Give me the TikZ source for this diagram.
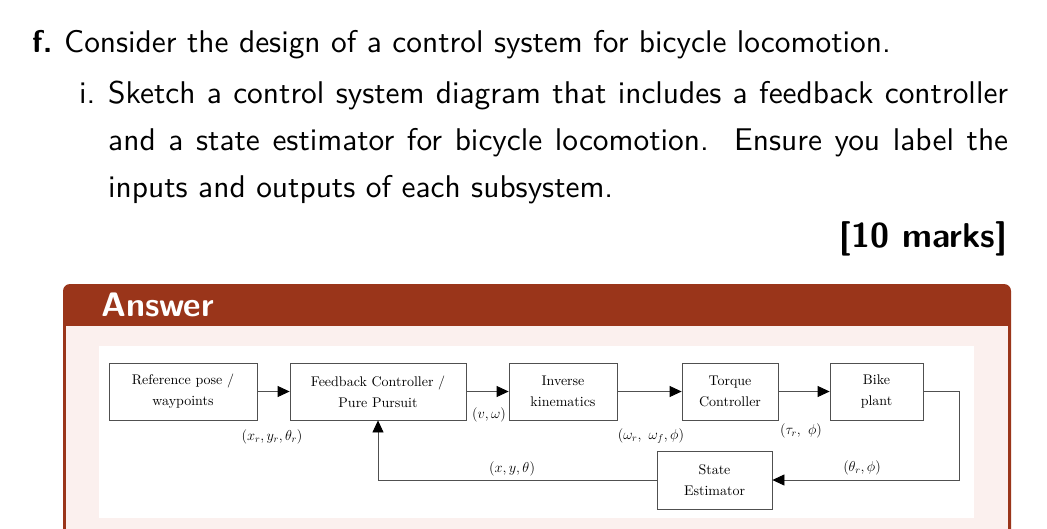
\documentclass[tikz,border=0pt]{standalone}
\usepackage{fontspec}
\setmainfont{lmroman10-regular}[Extension=.otf, BoldFont=lmroman10-bold, ItalicFont=lmroman10-italic]
\setsansfont{lmsans10-regular}[Extension=.otf, BoldFont=lmsans10-bold]
\usetikzlibrary{arrows.meta}
\definecolor{ansbrown}{RGB}{154,53,26}
\definecolor{anspink}{RGB}{251,240,238}
\definecolor{boxgray}{RGB}{80,80,80}
\begin{document}
\begin{tikzpicture}[x=1pt,y=-1pt,
  qtext/.style={anchor=base west, inner sep=0, font=\sffamily\fontsize{31.4}{36}\selectfont},
  blk/.style={draw=boxgray, line width=0.8pt, align=center, inner sep=0, minimum height=57pt, font=\fontsize{14}{21}\selectfont},
  sig/.style={inner sep=0, font=\fontsize{14.5}{17}\selectfont},
  arr/.style={draw=boxgray, line width=0.8pt, -{Triangle[length=12pt,width=11pt,color=black]}},
  ln/.style={draw=boxgray, line width=0.8pt}]
\useasboundingbox (0,0) rectangle (1047,528);
\clip (0,0) rectangle (1047,528);
\fill[white] (0,0) rectangle (1047,528);
% question text
\node[qtext] (q1a) at (32,52) {\bfseries f.};
\node[qtext] (q1) at (64,52) {Consider the design of a control system for bicycle locomotion.};
\node[qtext] (q2a) at (79,103) {i.};
\node[qtext] (q2) at (108,103) {\makebox[900pt][s]{Sketch a control system diagram that includes a feedback controller}};
\node[qtext] (q3) at (108,150) {\makebox[900pt][s]{and a state estimator for bicycle locomotion.\ \ Ensure you label the}};
\node[qtext] (q4) at (108,197) {inputs and outputs of each subsystem.};
\node[anchor=base east, inner sep=0, font=\sffamily\bfseries\fontsize{34.5}{40}\selectfont] (marks) at (1007,247) {[10 marks]};
% answer box
\fill[ansbrown, rounded corners=7pt] (63,284) rectangle (1011,560);
\fill[anspink] (66,326) rectangle (1008,560);
\fill[white] (99,346) rectangle (974,518);
\node[anchor=base west, inner sep=0, text=white, font=\sffamily\bfseries\fontsize{34}{40}\selectfont] (ans) at (101,316) {Answer};
% blocks
\node[blk, minimum width=148pt] (ref) at (183,391.5) {Reference pose /\\ waypoints};
\node[blk, minimum width=176pt] (fb) at (378,391.5) {Feedback Controller /\\ Pure Pursuit};
\node[blk, minimum width=108pt] (ik) at (563,391.5) {Inverse\\ kinematics};
\node[blk, minimum width=96pt] (tc) at (730,391.5) {Torque\\ Controller};
\node[blk, minimum width=93pt] (bike) at (876.5,391.5) {Bike\\ plant};
\node[blk, minimum width=115pt, minimum height=58pt] (se) at (714.5,480) {State\\ Estimator};
\coordinate (rt) at (959,480);
% connectors
\draw[arr] (ref.east) -- (fb.west);
\draw[arr] (fb.east) -- (ik.west);
\draw[arr] (ik.east) -- (tc.west);
\draw[arr] (tc.east) -- (bike.west);
\draw[arr] (bike.east) -| (rt) -- (se.east);
\draw[arr] (se.west) -| (fb.south);
% signal labels
\node[sig] (l1) at (272,437) {$(x_r, y_r, \theta_r)$};
\node[sig] (l2) at (489,415) {$(v,\omega)$};
\node[sig] (l3) at (651,436) {$(\omega_r,\ \omega_f,\phi)$};
\node[sig] (l4) at (801,431) {$(\tau_r,\ \phi)$};
\node[sig] (l5) at (512,469) {$(x,y,\theta)$};
\node[sig] (l6) at (862,468) {$(\theta_r,\phi)$};
\end{tikzpicture}
\end{document}
